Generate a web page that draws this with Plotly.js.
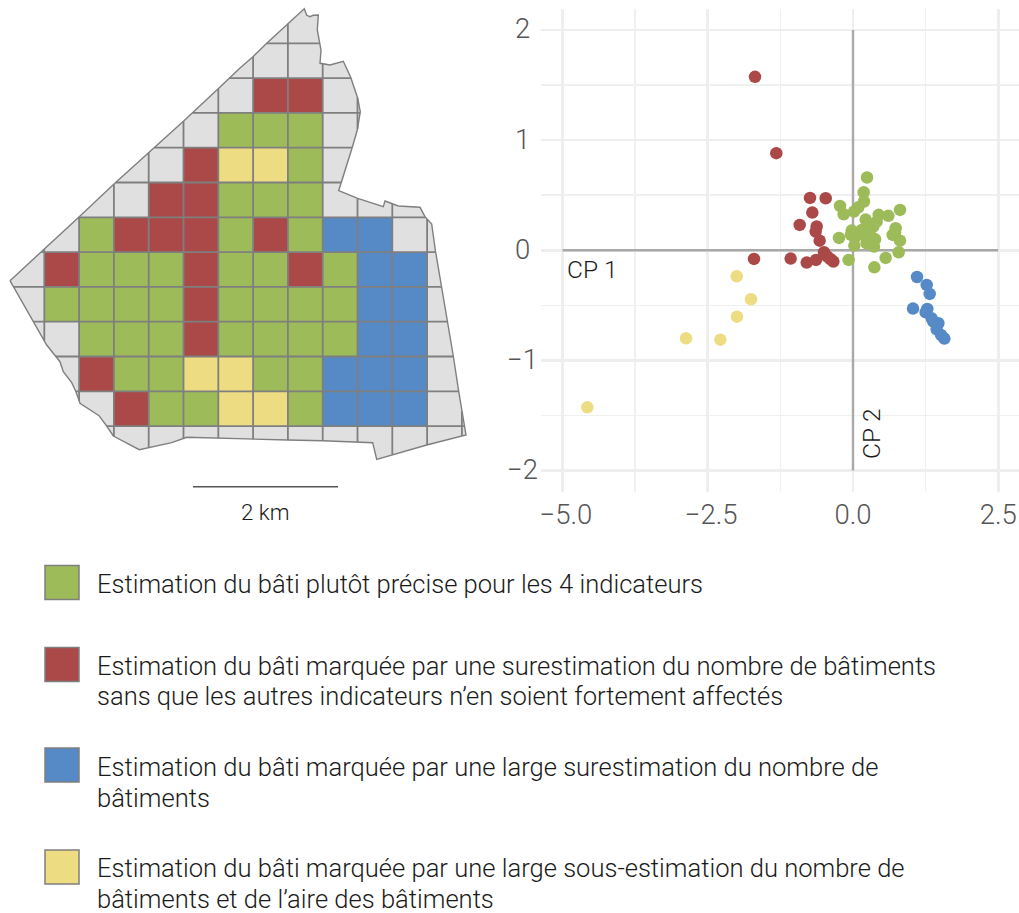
<!DOCTYPE html>
<html><head><meta charset="utf-8">
<script src="https://cdn.plot.ly/plotly-3.0.1.min.js"></script>
<style>html,body{margin:0;padding:0;background:#fff}</style></head>
<body><div id="chart" style="width:1019px;height:913px"></div>
<script>
// ---- data: map
const classGrid = [
  "............",
  "......RR....",
  ".....GGG....",
  "....RYYG....",
  "...RRGGG....",
  ".GRRRGRGBB..",
  "RGGGRGGRGBB.",
  "GGGGRGGGGBB.",
  ".GGGRGGGGBB.",
  ".RGGYYGGBBB.",
  "..RGGYYGBBB."
];
const outlineX = [10,43.5,79,114,148.7,183.7,219,240,252.7,267,287.7,304.3,306.7,310,313.3,318.3,317.3,319.3,321,320,330,343.3,350.7,357.7,360.3,357.3,352.3,338.7,357.7,383.3,385,398.3,420,425,431.7,435.3,441.7,447.3,453.3,458.7,462.7,466,426.7,392,376.7,372.7,357.3,322.7,287.7,252.7,218.7,186.7,171.7,148.7,139.3,113.3,106.7,99,80,76,71.7,63.3,60,46.7,10];
const outlineY = [280.7,250,217,184,153,121,88,68,57,43,24,8.7,15.3,16.7,15.3,15,30,43.3,50,63.3,65,61.3,77.3,98.3,111.7,130,147.3,190.7,198.3,206.7,201,206,207.3,216.7,224,250,286.7,321.7,356,391.3,416.7,435,445,454.7,459.3,442.7,442,440.7,440,439.3,438.3,437.3,442.7,447.3,449.7,436,426,415.7,403.3,391.7,382.7,371.7,361.7,345,280.7];
const gridColumns = 13, gridRows = 12;
// ---- data: scatter (CP 1, CP 2)
const greenX = [0.241,0.184,0.189,0.092,0.017,-0.224,-0.161,0.218,0.442,0.608,0.809,0.407,0.350,0.264,-0.023,-0.034,-0.241,0.034,0.023,0.235,0.178,0.235,0.379,0.321,0.361,0.252,0.734,0.683,0.809,0.786,0.562,0.367,-0.075,0.149,0.293,0.723];
const greenY = [0.660,0.526,0.442,0.390,0.351,0.402,0.327,0.278,0.321,0.312,0.366,0.260,0.215,0.200,0.178,0.139,0.112,0.118,0.042,0.169,0.139,0.063,0.100,0.109,0.033,0.078,0.200,0.139,0.087,-0.018,-0.070,-0.155,-0.088,0.184,0.139,0.160];
const redX = [-1.687,-1.320,-0.740,-0.470,-0.700,-0.918,-0.625,-0.643,-0.574,-1.704,-1.073,-0.797,-0.637,-0.499,-0.442,-0.338,-0.384];
const redY = [1.574,0.881,0.475,0.472,0.342,0.230,0.215,0.169,0.087,-0.079,-0.076,-0.112,-0.088,-0.018,-0.058,-0.103,-0.082];
const blueX = [1.102,1.268,1.320,1.033,1.279,1.251,1.354,1.383,1.469,1.440,1.515,1.572];
const blueY = [-0.243,-0.315,-0.397,-0.530,-0.533,-0.563,-0.618,-0.648,-0.663,-0.718,-0.769,-0.802];
const yellowX = [-2.002,-1.756,-1.997,-2.874,-2.283,-4.573];
const yellowY = [-0.236,-0.445,-0.603,-0.800,-0.812,-1.426];
const xTicks = [-5,-2.5,0,2.5];
const xTickLabels = ["\u00a0\u22125.0","\u00a0\u22122.5","0.0","2.5"];
const yTicks = [2,1,0,-1,-2];
const yTickLabels = ["2","1","0","\u22121","\u22122"];
// ---- data: legend
const legendKeys = ["G","R","B","Y"];
const legendLines = [
  ["Estimation du bâti plutôt précise pour les 4 indicateurs"],
  ["Estimation du bâti marquée par une surestimation du nombre de bâtiments","sans que les autres indicateurs n’en soient fortement affectés"],
  ["Estimation du bâti marquée par une large surestimation du nombre de","bâtiments"],
  ["Estimation du bâti marquée par une large sous-estimation du nombre de","bâtiments et de l’aire des bâtiments"]
];

// ---- styles and placement
const colors = {G:"#9dbb59",R:"#aa4947",B:"#568ac6",Y:"#eedc82"};
const GREY="#e0e0e0", EDGE="#7f7f7f";
const X0=44.3, Y0=43.3, STEP=34.8;
const W=1019, H=913;
const FONT="Roboto";
const WEIGHT=300;
const legendSwatchY=[582.5,664.5,765,867];
const legendFirstLineY=[584,665.5,767,868];
const LINE_GAP=30.5;

function cellTrace(k){
  const xs=[],ys=[];
  classGrid.forEach((row,r)=>[...row].forEach((c,i)=>{
    if(c!==k) return;
    const a=X0+i*STEP,b=a+STEP,t=Y0+r*STEP,u=t+STEP;
    xs.push(a,b,b,a,a,null); ys.push(t,t,u,u,t,null);
  }));
  return {type:"scatter",mode:"lines",x:xs,y:ys,xaxis:"x2",yaxis:"y2",fill:"toself",fillcolor:colors[k],line:{width:0,color:colors[k]},hoverinfo:"skip"};
}
// clip the grid lines to the commune outline
function crossings(value,A,B){
  const out=[];
  for(let i=0;i<A.length-1;i++){
    const a=A[i],b=A[i+1];
    if((a<=value&&b>value)||(b<=value&&a>value)) out.push(B[i]+(value-a)/(b-a)*(B[i+1]-B[i]));
  }
  return out.sort((p,q)=>p-q);
}
const gx=[],gy=[];
for(let i=0;i<gridColumns;i++){
  const v=X0+i*STEP, c=crossings(v,outlineX,outlineY);
  for(let j=0;j+1<c.length;j+=2){gx.push(v,v,null);gy.push(c[j],c[j+1],null);}
}
for(let i=0;i<gridRows;i++){
  const v=Y0+i*STEP, c=crossings(v,outlineY,outlineX);
  for(let j=0;j+1<c.length;j+=2){gy.push(v,v,null);gx.push(c[j],c[j+1],null);}
}
const pts=(x,y,k)=>({type:"scatter",mode:"markers",x,y,xaxis:"x",yaxis:"y",marker:{size:12.5,color:colors[k],line:{width:0}},hoverinfo:"skip"});

const data=[
  {type:"scatter",mode:"lines",x:outlineX,y:outlineY,xaxis:"x2",yaxis:"y2",fill:"toself",fillcolor:GREY,line:{width:0,color:GREY},hoverinfo:"skip"},
  ...legendKeys.map(cellTrace),
  {type:"scatter",mode:"lines",x:gx,y:gy,xaxis:"x2",yaxis:"y2",line:{width:1.8,color:EDGE},hoverinfo:"skip",connectgaps:false},
  {type:"scatter",mode:"lines",x:outlineX,y:outlineY,xaxis:"x2",yaxis:"y2",line:{width:1.4,color:EDGE},hoverinfo:"skip"},
  {type:"scatter",mode:"lines",x:[193,338],y:[486.7,486.7],xaxis:"x2",yaxis:"y2",line:{width:1.5,color:"#555"},hoverinfo:"skip"},
  {type:"scatter",mode:"markers",x:legendKeys.map(()=>62),y:legendSwatchY,xaxis:"x2",yaxis:"y2",marker:{symbol:"square",size:34,color:legendKeys.map(k=>colors[k]),line:{width:1.5,color:EDGE}},hoverinfo:"skip"},
  {type:"scatter",mode:"lines",x:[xTicks[0],xTicks[3]],y:[0,0],xaxis:"x",yaxis:"y",line:{width:2.4,color:"#a9a9a9"},hoverinfo:"skip"},
  {type:"scatter",mode:"lines",x:[0,0],y:[yTicks[0],yTicks[4]],xaxis:"x",yaxis:"y",line:{width:2.4,color:"#a9a9a9"},hoverinfo:"skip"},
  pts(greenX,greenY,"G"),pts(redX,redY,"R"),pts(blueX,blueY,"B"),pts(yellowX,yellowY,"Y")
];

const ann=(x,y,text,size,extra)=>Object.assign({x,y,text,xref:"x2",yref:"y2",showarrow:false,xanchor:"left",yanchor:"middle",align:"left",font:{family:FONT,weight:WEIGHT,size,color:"#1a1a1a"}},extra||{});
const annotations=[
  ann(265.5,511.5,"2 km",22.3,{xanchor:"center"}),
  ann(565,269,"CP 1",24.5),
  ann(871,434,"CP 2",24.5,{xanchor:"center",textangle:-90}),
  ...legendLines.flatMap((lines,i)=>lines.map((t,j)=>ann(95,legendFirstLineY[i]+j*LINE_GAP,t,25.55))),
  ...yTicks.map((v,i)=>({x:522.5,y:v,yshift:1,xref:"x2",yref:"y",text:yTickLabels[i],showarrow:false,xanchor:"center",yanchor:"middle",font:{family:FONT,weight:WEIGHT,size:27.5,color:"#555"}}))
];

const layout={
  width:W,height:H,margin:{l:0,r:0,t:0,b:0},paper_bgcolor:"#fff",plot_bgcolor:"rgba(0,0,0,0)",showlegend:false,
  xaxis:{domain:[541/W,1],range:[-5.37,2.857],tickvals:xTicks,ticktext:xTickLabels,ticks:"",zeroline:false,showline:false,showgrid:true,gridcolor:"#eeeeee",gridwidth:2.6,
    minor:{dtick:1.25,tick0:0,showgrid:true,gridcolor:"#f0f0f0",gridwidth:1.5,ticks:""},
    tickfont:{family:FONT,weight:WEIGHT,size:27.5,color:"#555"},ticklabelstandoff:3,anchor:"y"},
  yaxis:{domain:[1-492/H,1-9/H],range:[-2.195,2.19],tickvals:yTicks,showticklabels:false,ticks:"",zeroline:false,showline:false,showgrid:true,gridcolor:"#eeeeee",gridwidth:2.6,
    minor:{dtick:0.5,tick0:0,showgrid:true,gridcolor:"#f0f0f0",gridwidth:1.5,ticks:""},anchor:"x"},
  xaxis2:{domain:[0,1],range:[0,W],visible:false,anchor:"y2",fixedrange:true},
  yaxis2:{domain:[0,1],range:[H,0],visible:false,anchor:"x2",fixedrange:true},
  annotations
};
Plotly.newPlot("chart",data,layout,{staticPlot:true,displayModeBar:false});
</script></body></html>
